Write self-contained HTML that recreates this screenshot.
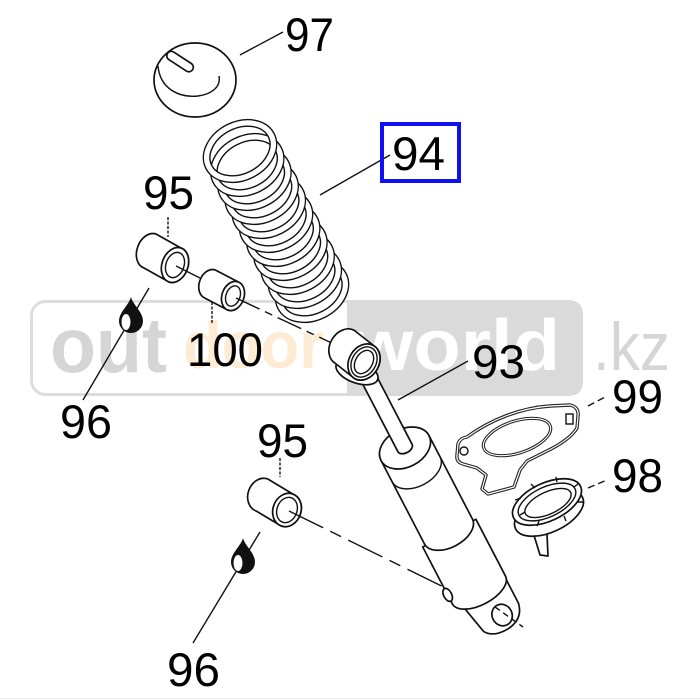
<!DOCTYPE html>
<html><head><meta charset="utf-8"><style>html,body{margin:0;padding:0;background:#fff}svg{display:block}
.s{fill:#fff;stroke:#111;stroke-width:1.7;stroke-linejoin:round}
.l{fill:none;stroke:#111;stroke-width:1.4}
.t{font-family:"Liberation Sans",Arial,sans-serif;font-size:47px;fill:#000}
</style></head><body>
<svg width="700" height="700" viewBox="0 0 700 700" xmlns="http://www.w3.org/2000/svg">
<rect width="700" height="700" fill="#fff"/>
<defs>
<g id="ring"><ellipse rx="35" ry="26" fill="#fff" stroke="#111" stroke-width="8"/><ellipse rx="35" ry="26" fill="none" stroke="#fff" stroke-width="5.2"/></g>
<g id="ring0"><ellipse rx="35" ry="26" fill="none" stroke="#111" stroke-width="8"/><ellipse rx="35" ry="26" fill="none" stroke="#fff" stroke-width="5.2"/></g>
</defs>

<!-- watermark -->
<rect x="31.5" y="301.5" width="550" height="93" rx="14" fill="#fff" stroke="#dddddd" stroke-width="3"/>
<path d="M347,300 L568,300 Q583,300 583,315 L583,381 Q583,396 568,396 L347,396 Z" fill="#dadada"/>
<text x="50" y="372" font-family="Liberation Sans, Arial, sans-serif" font-weight="bold" font-size="78" fill="#d5d5d5" textLength="117" lengthAdjust="spacingAndGlyphs">out</text>
<text x="183" y="368" font-family="Liberation Sans, Arial, sans-serif" font-weight="bold" font-size="66" fill="#fdebd3" textLength="141" lengthAdjust="spacingAndGlyphs">door</text>
<text x="353" y="370" font-family="Liberation Sans, Arial, sans-serif" font-weight="bold" font-size="72" fill="#ffffff" textLength="207" lengthAdjust="spacingAndGlyphs">world</text>
<text x="593" y="370" font-family="Liberation Sans, Arial, sans-serif" font-size="68" fill="#d5d5d5" textLength="77" lengthAdjust="spacingAndGlyphs">.kz</text>

<!-- spring 94 -->
<use href="#ring" transform="translate(312,291) rotate(-27)"/>
<use href="#ring" transform="translate(304.8,277) rotate(-27)"/>
<use href="#ring" transform="translate(297.6,263) rotate(-27)"/>
<use href="#ring" transform="translate(290.4,249) rotate(-27)"/>
<use href="#ring" transform="translate(283.2,235) rotate(-27)"/>
<use href="#ring" transform="translate(276,221) rotate(-27)"/>
<use href="#ring" transform="translate(268.8,207) rotate(-27)"/>
<use href="#ring" transform="translate(261.6,193) rotate(-27)"/>
<use href="#ring" transform="translate(254.4,179) rotate(-27)"/>
<use href="#ring" transform="translate(247.2,165) rotate(-27)"/>
<use href="#ring0" transform="translate(240,151) rotate(-27)"/>

<!-- part 97 -->
<ellipse class="s" cx="195" cy="80" rx="41" ry="37"/>
<path class="l" d="M158,66 C160,88 178,98 198,96 C213,94 221,86 219,76"/>
<rect class="s" x="-3" y="-4.5" width="30" height="9" rx="4.5" transform="translate(170,55) rotate(33)"/>

<!-- bushing 95 top -->
<path class="s" d="M156.2,234.1 L181.2,248.1 A13,18 20 0 1 168.8,281.9 L143.8,267.9 A13,18 20 0 1 156.2,234.1 Z"/>
<ellipse class="s" cx="175" cy="265" rx="13" ry="18" transform="rotate(20 175 265)"/>
<ellipse class="l" cx="175" cy="265" rx="9" ry="13" transform="rotate(20 175 265)"/>
<line class="l" x1="176" y1="266" x2="200" y2="278"/>

<!-- bushing 100 -->
<path class="s" d="M215.1,269.9 L238.1,281.9 A11,15 20 0 1 227.9,310.1 L204.9,298.1 A11,15 20 0 1 215.1,269.9 Z"/>
<ellipse class="s" cx="233" cy="296" rx="11" ry="15" transform="rotate(20 233 296)"/>
<ellipse class="l" cx="233" cy="296" rx="7" ry="10.5" transform="rotate(20 233 296)"/>

<!-- bushing 95 bottom -->
<path class="s" d="M267.8,479 L292.8,494 A14,17 20 0 1 281.2,526 L256.2,511 A14,17 20 0 1 267.8,479 Z"/>
<ellipse class="s" cx="287" cy="510" rx="14" ry="17" transform="rotate(20 287 510)"/>
<ellipse class="l" cx="287" cy="510" rx="10" ry="13" transform="rotate(20 287 510)"/>

<!-- dashed axis lines -->
<line class="l" x1="236" y1="298" x2="338" y2="346" stroke-dasharray="26 6 8 6"/>
<line class="l" x1="289" y1="511" x2="470" y2="600" stroke-dasharray="38 8 12 8"/>

<!-- shock absorber 93 -->
<g transform="translate(405,448) rotate(-27.5)">
 <path class="s" d="M-22,166 L-15,199 Q-9,209 8,208 Q26,206 29,190 L29,164 Z"/>
 <ellipse class="s" cx="9" cy="193" rx="10" ry="11"/>
 <path class="s" d="M-30,96 L-30,160 A30,15 0 0 0 30,160 L30,96 Z"/>
 <ellipse class="s" cx="-30" cy="150" rx="4" ry="7"/>
 <path class="s" d="M-27,0 L-27,94 A27,16 0 0 0 27,94 L27,0 Z"/>
 <path class="l" d="M-27,24 A27,17 0 0 0 27,24"/>
 <ellipse class="s" cx="0" cy="0" rx="27" ry="19"/>
 <path class="s" d="M-8,-88 L-8,0 A8,5 0 0 0 8,0 L8,-88 Z"/>
</g>
<line class="l" x1="495" y1="607" x2="523" y2="627" stroke-dasharray="6 4"/>
<ellipse class="s" cx="357" cy="372" rx="22" ry="11" transform="rotate(20 357 372)"/>
<path class="s" d="M354.5,330.5 L373.5,345.5 A15,19 30 0 1 354.5,378.5 L335.5,363.5 A15,19 30 0 1 354.5,330.5 Z"/>
<ellipse class="s" cx="364" cy="362" rx="15" ry="19" transform="rotate(30 364 362)"/>
<ellipse class="l" cx="364" cy="362" rx="12" ry="16" transform="rotate(30 364 362)"/>
<ellipse class="l" cx="364" cy="362" rx="8.5" ry="12.5" transform="rotate(30 364 362)"/>

<!-- gasket 99 -->
<path d="M467,437 C490,420 520,408 550,406 L570,405 Q579,407 578,416 L577,428 Q570,440 545,452 L527,461 L520,470 L514,487 L488,494 L482,489 L486,475 L477,468 L463,464 Q456,462 457,455 L458,444 Q460,438 467,437 Z" fill="#fff" stroke="#222" stroke-width="3.4" stroke-linejoin="round"/>
<path d="M467,437 C490,420 520,408 550,406 L570,405 Q579,407 578,416 L577,428 Q570,440 545,452 L527,461 L520,470 L514,487 L488,494 L482,489 L486,475 L477,468 L463,464 Q456,462 457,455 L458,444 Q460,438 467,437 Z" fill="none" stroke="#fff" stroke-width="1.2" stroke-linejoin="round"/>
<ellipse cx="517" cy="437" rx="35" ry="16" transform="rotate(-18 517 437)" fill="none" stroke="#222" stroke-width="3.2"/>
<ellipse cx="517" cy="437" rx="35" ry="16" transform="rotate(-18 517 437)" fill="none" stroke="#fff" stroke-width="1.1"/>
<circle class="l" cx="464" cy="451" r="4"/>
<rect class="l" x="566" y="414" width="7" height="10"/>

<!-- ring nut 98 -->
<path class="s" d="M533,532 L540,555 L548,556 L547,534 Z"/>
<ellipse class="s" cx="549" cy="513" rx="37" ry="19" transform="rotate(-25 549 513)"/>
<ellipse class="s" cx="547" cy="502" rx="37" ry="19" transform="rotate(-25 547 502)" stroke-width="2.4"/>
<ellipse class="l" cx="547" cy="502" rx="31" ry="15" transform="rotate(-25 547 502)"/>
<ellipse class="l" cx="548" cy="503" rx="25" ry="11" transform="rotate(-25 548 503)"/>
<path class="l" d="M515,500 l6,-2 M531,484 l4,4 M556,477 l1,5 M578,484 l-4,3 M583,502 l-6,0 M566,521 l-2,-5 M537,526 l2,-5 M520,515 l5,-3"/>

<!-- leaders -->
<line class="l" x1="240" y1="55" x2="283" y2="32"/>
<line class="l" x1="320" y1="195" x2="390" y2="155"/>
<line class="l" x1="168" y1="217" x2="168" y2="237" stroke-dasharray="3 1.5"/>
<line class="l" x1="212" y1="302" x2="212" y2="323" stroke-dasharray="3 1.5"/>
<line class="l" x1="280" y1="458" x2="280" y2="477" stroke-dasharray="3 1.5"/>
<line class="l" x1="149" y1="288" x2="83" y2="400"/>
<line class="l" x1="260" y1="532" x2="193" y2="643"/>
<line class="l" x1="398" y1="400" x2="468" y2="361"/>
<line class="l" x1="588" y1="406" x2="607" y2="396" stroke-dasharray="7 4"/>
<line class="l" x1="588" y1="488" x2="607" y2="480" stroke-dasharray="7 4"/>

<!-- drops 96 -->
<path d="M131,297 C133,305 143,312 143,321 A12,12 0 0 1 119,321 C119,312 129,305 131,297 Z" fill="#111"/>
<ellipse cx="126" cy="322" rx="4.5" ry="8" fill="#fff"/>
<path d="M243,538 C245,546 255,553 255,562 A12,12 0 0 1 231,562 C231,553 241,546 243,538 Z" fill="#111"/>
<ellipse cx="238" cy="563" rx="4.5" ry="8" fill="#fff"/>

<!-- blue box -->
<rect x="382" y="124" width="77" height="57" fill="none" stroke="#1010f0" stroke-width="4"/>

<!-- labels -->
<text class="t" x="285" y="51" textLength="49" lengthAdjust="spacingAndGlyphs">97</text>
<text class="t" x="392" y="170" textLength="53" lengthAdjust="spacingAndGlyphs">94</text>
<text class="t" x="143" y="209" textLength="51" lengthAdjust="spacingAndGlyphs">95</text>
<text class="t" x="187" y="366" textLength="76" lengthAdjust="spacingAndGlyphs">100</text>
<text class="t" x="60" y="438" textLength="52" lengthAdjust="spacingAndGlyphs">96</text>
<text class="t" x="472" y="378" textLength="53" lengthAdjust="spacingAndGlyphs">93</text>
<text class="t" x="612" y="413" textLength="51" lengthAdjust="spacingAndGlyphs">99</text>
<text class="t" x="612" y="492" textLength="51" lengthAdjust="spacingAndGlyphs">98</text>
<text class="t" x="257" y="457" textLength="51" lengthAdjust="spacingAndGlyphs">95</text>
<text class="t" x="167" y="686" textLength="53" lengthAdjust="spacingAndGlyphs">96</text>
<line x1="0" y1="698.5" x2="700" y2="698.5" stroke="#ececec" stroke-width="1"/>
</svg>
</body></html>
